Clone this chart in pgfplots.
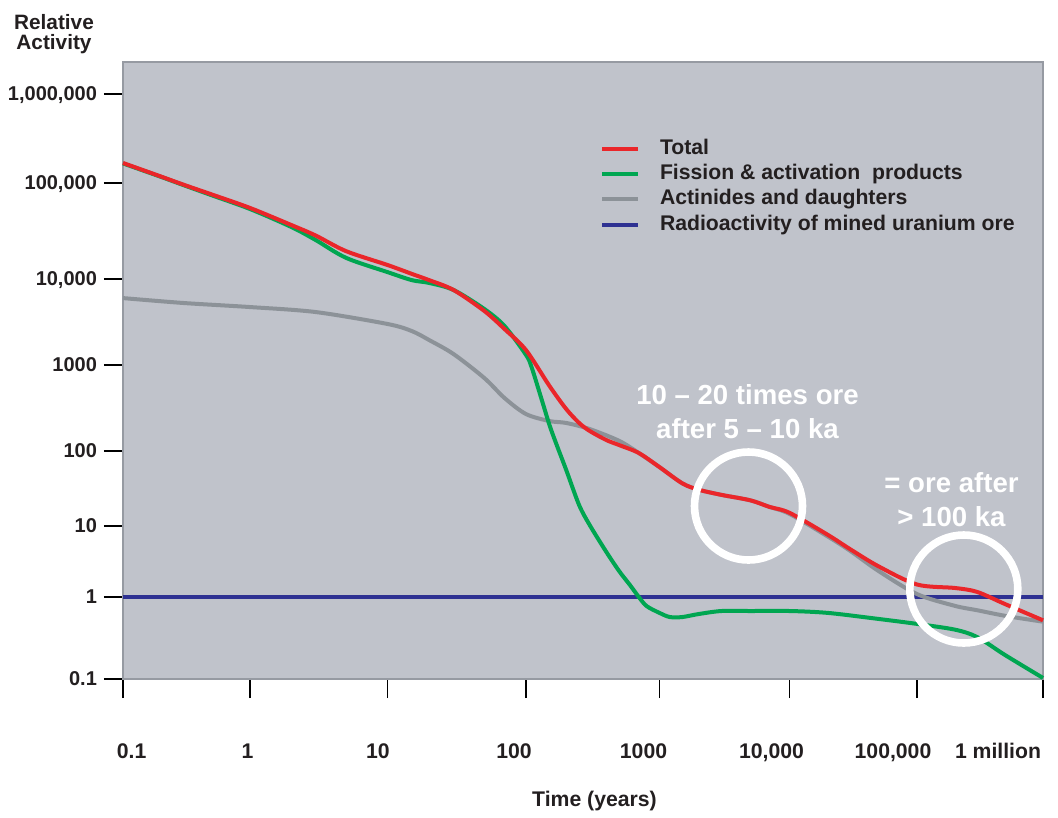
\documentclass[border=0pt]{standalone}
\usepackage{pgfplots}
\pgfplotsset{compat=1.18}
\usepackage{pgfplotstable}
\usepackage{fontspec}
\setmainfont{Liberation Sans}
\definecolor{plotbg}{RGB}{192,195,203}
\definecolor{framegrey}{RGB}{150,154,162}
\definecolor{cred}{RGB}{234,38,42}
\definecolor{cgreen}{RGB}{0,166,81}
\definecolor{cgrey}{RGB}{140,146,152}
\definecolor{cblue}{RGB}{46,49,146}
\definecolor{textdark}{RGB}{35,31,32}

\pgfplotstableread{
t v
0.1 168000
0.2 118000
0.3 96000
0.5 76000
1 55000
2 36500
3 28400
5 19500
10 14000
15 11300
20 9700
30 7450
50 4250
70 2620
100 1490
150 570
200 308
250 212
300 171
400 134
500 117
700 94
1000 61
1500 37
2000 30.5
3000 26
5000 22
7000 18
10000 15
20000 7.5
30000 4.7
50000 2.7
100000 1.5
200000 1.34
300000 1.18
500000 0.82
1000000 0.52
}\redtab

\pgfplotstableread{
t v
0.1 166000
0.2 117000
0.3 95000
0.5 74500
1 53600
2 34800
3 25500
5 16600
10 11800
15 9700
20 9000
30 7450
50 4480
70 2840
100 1310
110 948
130 413
150 200
170 117
200 56
250 19
300 10.3
400 4.3
500 2.3
600 1.48
700 1.0
800 0.776
1000 0.64
1200 0.57
1500 0.57
2000 0.62
3000 0.675
5000 0.675
10000 0.675
20000 0.64
50000 0.54
100000 0.47
200000 0.40
300000 0.325
500000 0.196
1000000 0.103
}\greentab

\pgfplotstableread{
t v
0.1 6000
0.3 5260
1 4720
3 4130
10 3000
15 2480
20 1950
30 1340
50 706
70 413
100 269
150 223
200 212
300 180
500 131
700 94
1000 61
1500 37
2000 30.5
3000 26
5000 22
7000 18
10000 14.5
20000 7.1
30000 4.45
50000 2.32
100000 1.10
200000 0.78
300000 0.69
500000 0.59
1000000 0.50
}\greytab

\pgfplotstableread{
t v
0.1 1
1000000 1
}\orettab

\begin{document}
\begin{tikzpicture}[
  declare function={
    cl(\u)=min(max(\u,0),1);
    lg(\t)=ln(\t)*0.4342944819;
    xp(\t)=127*cl(lg(\t)+1)+137.5*cl(lg(\t))+138.5*cl(lg(\t)-1)+133.5*cl(lg(\t)-2)+130*cl(lg(\t)-3)+127.5*cl(lg(\t)-4)+126*cl(lg(\t)-5);
    yp(\v)=82*cl(lg(\v)+1)+71*cl(lg(\v))+75*cl(lg(\v)-1)+86*cl(lg(\v)-2)+86*cl(lg(\v)-3)+96*cl(lg(\v)-4)+89*cl(lg(\v)-5);
  }]
\begin{axis}[
  x=0.5pt, y=0.5pt,
  xmin=0, xmax=920, ymin=0, ymax=617,
  clip=false,
  axis background/.style={fill=plotbg},
  axis line style={draw=framegrey, line width=1pt},
  tick pos=left, tick align=outside,
  major tick length=9.5pt,
  tick style={draw=black, line width=0.7pt},
  xtick={0,127,264.5,403,536.5,666.5,794,920},
  xticklabels={},
  ytick={0,82,153,228,314,400,496,585},
  yticklabels={{\textbf{0.1}},{\textbf{1}},{\textbf{10}},{\textbf{100}},{\textbf{1000}},{\textbf{10,000}},{\textbf{100,000}},{\textbf{1,000,000}}},
  yticklabel style={font=\fontsize{10}{11}\selectfont\bfseries, text=textdark, text depth=0pt},
  legend cell align=left,
  legend image code/.code={\draw[#1] (0pt,0pt) -- (18pt,0pt);},
  legend style={at={(axis cs:477,540.5)}, anchor=north west, draw=none, fill=none,
    inner sep=0pt, row sep=3pt, column sep=9.8pt,
    font=\fontsize{10.6}{12}\selectfont\bfseries, text=textdark,
    nodes={inner sep=0pt, text height=7.6pt, text depth=2.1pt}},
]
\addlegendimage{cred, line width=2pt}
\addlegendentry{Total}
\addlegendimage{cgreen, line width=2pt}
\addlegendentry{Fission \& activation\ \ products}
\addlegendimage{cgrey, line width=2pt}
\addlegendentry{Actinides and daughters}
\addlegendimage{cblue, line width=2pt}
\addlegendentry{Radioactivity of mined uranium ore}

\addplot[cblue, line width=1.7pt, forget plot] table[x expr={xp(\thisrow{t})}, y expr={yp(\thisrow{v})}] {\orettab};
\addplot[cgrey, line width=2pt, smooth, tension=0.5, forget plot] table[x expr={xp(\thisrow{t})}, y expr={yp(\thisrow{v})}] {\greytab};
\addplot[cgreen, line width=2pt, smooth, tension=0.5, forget plot] table[x expr={xp(\thisrow{t})}, y expr={yp(\thisrow{v})}] {\greentab};
\addplot[cred, line width=2pt, smooth, tension=0.5, forget plot] table[x expr={xp(\thisrow{t})}, y expr={yp(\thisrow{v})}] {\redtab};

% annotations
\draw[white, line width=3.8pt] (axis cs:625.5,173) circle[radius=27pt];
\draw[white, line width=3.8pt] (axis cs:840.8,90) circle[radius=27pt];
\node[text=white, font=\fontsize{13.8}{17}\selectfont\bfseries, align=center] at (axis cs:624.5,267) {10 – 20 times ore\\after 5 – 10 ka};
\node[text=white, font=\fontsize{13.8}{17}\selectfont\bfseries, align=center] at (axis cs:828.5,179) {= ore after\\> 100 ka};

% x tick labels
\begin{scope}[every node/.style={anchor=base, text=textdark, font=\fontsize{10.6}{12}\selectfont\bfseries}]
\node at (axis cs:8.6,-79.3) {0.1};
\node at (axis cs:124.5,-79.3) {1};
\node at (axis cs:255,-79.3) {10};
\node at (axis cs:391,-79.3) {100};
\node at (axis cs:520.5,-79.3) {1000};
\node at (axis cs:648.5,-79.3) {10,000};
\node at (axis cs:770,-79.3) {100,000};
\node at (axis cs:875,-79.3) {1 million};
\node at (axis cs:471.5,-127) {Time (years)};
\end{scope}
\node[anchor=north, inner sep=0pt, align=center, text=textdark, font=\fontsize{10.4}{10.2}\selectfont\bfseries] at (axis cs:-69,665) {Relative\\Activity};

% canvas extent
\path (axis cs:-123,-133) rectangle (axis cs:935,679);
\end{axis}
\end{tikzpicture}
\end{document}
